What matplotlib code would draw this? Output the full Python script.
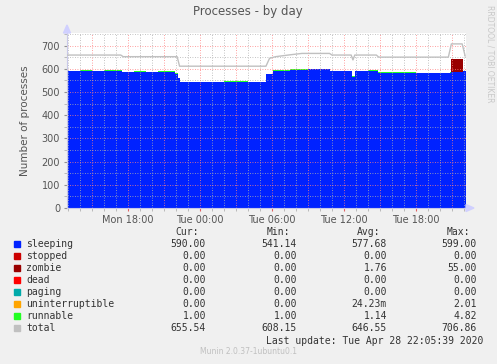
import matplotlib
matplotlib.use('Agg')
import matplotlib.pyplot as plt
from matplotlib.patches import Rectangle, Polygon
from matplotlib.ticker import MultipleLocator, FixedLocator

# time in hours since Mon 00:00
hours = [12.9, 14.0, 15.0, 16.0, 17.5, 18.5, 19.5, 20.5, 21.9, 22.2, 22.3, 24.0, 26.0, 28.0,
         29.5, 30.1, 31.0, 31.5, 33.0, 34.0, 34.8, 36.0, 36.7, 36.9, 38.0, 38.8, 40.0, 42.0,
         44.8, 44.9, 45.9, 46.2]
sleeping = [590, 591, 590, 592, 586, 587, 587, 588, 578, 560, 541, 541, 542, 541,
            577, 590, 592, 596, 597, 599, 591, 590, 566, 590, 591, 583, 583, 582,
            583, 585, 590, 590]
zombie = [0, 0, 0, 0, 0, 0, 0, 0, 0, 0, 0, 0, 0, 0,
          0, 0, 0, 0, 0, 0, 0, 0, 0, 0, 0, 0, 0, 0,
          0, 55, 0, 0]
runnable = [1, 4, 1, 1, 1, 3, 1, 1, 2, 1, 1, 1, 4, 1,
            1, 3, 1, 1, 2, 1, 1, 1, 1, 1, 2, 1, 1, 1,
            1, 2, 1, 1]

total_hours = [12.9, 17.4, 17.6, 22.1, 22.3, 29.5, 29.8, 30.3, 31.5, 32.5, 34.8, 35.0,
               36.6, 36.75, 36.9, 38.7, 38.9, 44.7, 44.95, 45.85, 46.1]
total = [659, 659, 652, 652, 611, 611, 645, 652, 660, 666, 666, 659,
         659, 638, 659, 659, 650, 650, 707, 707, 655]

xtick_pos = [18, 24, 30, 36, 42]
xtick_labels = ['Mon 18:00', 'Tue 00:00', 'Tue 06:00', 'Tue 12:00', 'Tue 18:00']

legend_names = ['sleeping', 'stopped', 'zombie', 'dead', 'paging', 'uninterruptible', 'runnable', 'total']
legend_colors = ['#0022ff', '#cc0000', '#990000', '#ff0000', '#00aaaa', '#ffa500', '#22ff22', '#c0c0c0']
cur = ['590.00', '0.00', '0.00', '0.00', '0.00', '0.00', '1.00', '655.54']
mins = ['541.14', '0.00', '0.00', '0.00', '0.00', '0.00', '1.00', '608.15']
avgs = ['577.68', '0.00', '1.76', '0.00', '0.00', '24.23m', '1.14', '646.55']
maxs = ['599.00', '0.00', '55.00', '0.00', '0.00', '2.01', '4.82', '706.86']

W, H = 497, 364
bg = '#f0f0f0'
fig = plt.figure(figsize=(W / 100, H / 100), dpi=100, facecolor=bg)
ax = fig.add_axes([67 / W, 1 - 208 / H, 399 / W, 175 / H])
ax.set_facecolor('white')

# stacked areas
z_top = [s + z for s, z in zip(sleeping, zombie)]
r_top = [t + r for t, r in zip(z_top, runnable)]
ax.fill_between(hours, 0, sleeping, step='post', color='#0022ff', lw=0, zorder=1)
ax.fill_between(hours, sleeping, z_top, step='post', color='#990000', lw=0, zorder=1)
ax.fill_between(hours, z_top, r_top, step='post', color='#22ff22', lw=0, zorder=1)
ax.plot(total_hours, total, color='#c0c0c0', lw=1.0, zorder=3)

ax.set_xlim(12.92, 46.17)
ax.set_ylim(0, 754)

ax.xaxis.set_major_locator(FixedLocator(xtick_pos))
ax.set_xticklabels(xtick_labels)
ax.xaxis.set_minor_locator(MultipleLocator(1))
ax.yaxis.set_major_locator(MultipleLocator(100))
ax.yaxis.set_minor_locator(MultipleLocator(50))

# grid drawn over the data like rrdtool does
for v in range(15, 47, 3):
    ax.axvline(v, color='#ff8080', lw=0.6, ls=(0, (1, 2)), zorder=2)
for v in range(13, 47):
    if v % 3:
        ax.axvline(v, color='#b0b0b0', lw=0.6, ls=(0, (1, 2)), zorder=2)
for v in range(100, 751, 100):
    ax.axhline(v, color='#ff8080', lw=0.6, ls=(0, (1, 2)), zorder=2)
for v in range(50, 751, 100):
    ax.axhline(v, color='#b0b0b0', lw=0.6, ls=(0, (1, 2)), zorder=2)

for s in ['top', 'right']:
    ax.spines[s].set_visible(False)
ax.spines['left'].set_color('#c8c8e8')
ax.spines['bottom'].set_color('#c8c8e8')
ax.tick_params(axis='both', which='major', labelsize=7, labelcolor='#555555', length=2,
               color='#e06060', pad=3)
ax.tick_params(axis='both', which='minor', length=2, color='#b0b0b0')
ax.tick_params(axis='y', which='major', color='#909090')

# axis arrow heads (figure pixels, y from top)
def px(x, y):
    return (x / W, 1 - y / H)

fig.patches.append(Polygon([px(466, 204.5), px(474, 208), px(466, 211.5)], closed=True,
                           transform=fig.transFigure, color='#d0d0ff'))
fig.patches.append(Polygon([px(63.5, 33), px(67, 25), px(70.5, 33)], closed=True,
                           transform=fig.transFigure, color='#d0d0ff'))

ax.set_ylabel('Number of processes', fontsize=7.5, color='#555555', labelpad=8)

fig.text(248 / W, 1 - 12 / H, 'Processes - by day', ha='center', va='center',
         fontsize=8.5, color='#555555')
fig.text(490 / W, 1 - 5 / H, 'RRDTOOL / TOBI OETIKER', rotation=270, ha='center', va='top',
         fontsize=5.5, color='#c8c8c8')

# legend table
mono = 'DejaVu Sans Mono'
fs = 7
tc = '#333333'
col_right = [206, 297, 387, 477]
head_right = [199, 290, 380, 470]
for x, h in zip(head_right, ['Cur:', 'Min:', 'Avg:', 'Max:']):
    fig.text(x / W, 1 - 232 / H, h, ha='right', va='center', family=mono, fontsize=fs, color=tc)
for i, name in enumerate(legend_names):
    y = 244 + 12 * i
    fig.patches.append(Rectangle((14 / W, 1 - (y + 3) / H), 6 / W, 6 / H,
                                 transform=fig.transFigure, color=legend_colors[i]))
    fig.text(26 / W, 1 - y / H, name, ha='left', va='center', family=mono, fontsize=fs, color=tc)
    for x, vals in zip(col_right, [cur, mins, avgs, maxs]):
        fig.text(x / W, 1 - y / H, vals[i], ha='right', va='center', family=mono, fontsize=fs,
                 color=tc)
fig.text(483 / W, 1 - 341 / H, 'Last update: Tue Apr 28 22:05:39 2020', ha='right', va='center',
         family=mono, fontsize=fs, color=tc)
fig.text(249 / W, 1 - 352 / H, 'Munin 2.0.37-1ubuntu0.1', ha='center', va='center',
         fontsize=5.5, color='#c0c0c0')

fig.savefig('out.png', dpi=100, facecolor=bg)
